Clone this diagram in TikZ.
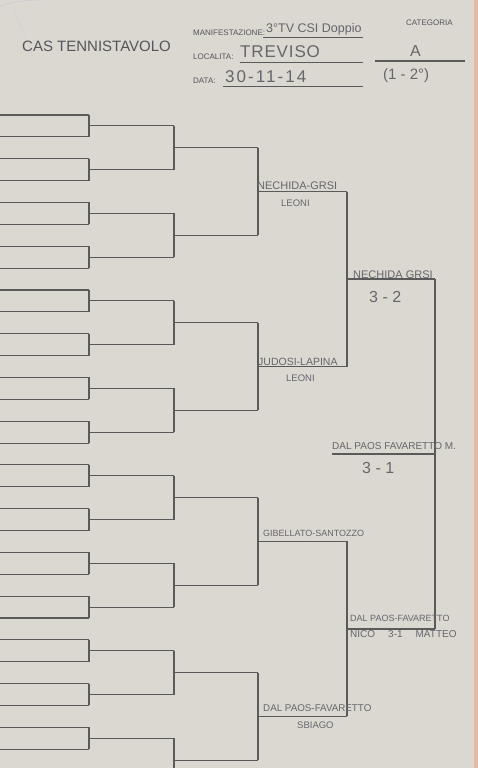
\documentclass[tikz,border=0pt]{standalone}
\usepackage{fontspec}
\setmainfont{Liberation Sans}
\usetikzlibrary{positioning, calc}
\usepackage{xcolor}
\definecolor{paper}{HTML}{DBD7D1}
\definecolor{edgepink}{HTML}{E6B9A6}
\definecolor{inkline}{HTML}{5A5A5A}
\definecolor{pencil}{HTML}{66666C}
\definecolor{printed}{HTML}{55555A}

\tikzset{
  bline/.style={inkline, line width=1.1pt},
  uline/.style={inkline, line width=0.9pt},
  hand/.style={pencil, inner sep=0pt, anchor=west, font=\fontsize{#1}{#1}\selectfont},
  hand/.default=10,
  form/.style={printed, inner sep=0pt, anchor=west, font=\fontsize{8}{8}\selectfont}
}

\begin{document}
\begin{tikzpicture}[x=1pt, y=-1pt]
  \useasboundingbox (0,0) rectangle (478,768);
  \fill[paper] (0,0) rectangle (478,768);
  \fill[edgepink] (474,0) rectangle (478,768);
  \clip (0,0) rectangle (478,768);
  % faint pencil marks top left
  \draw[pencil!35, line width=0.5pt] (0,6) .. controls (12,2) and (26,0) .. (38,0);
  \draw[pencil!30, line width=0.4pt] (13,7) -- (33,57);

  % header
  \node[hand=15, printed] (club) at (22,46) {CAS TENNISTAVOLO};
  \node[form] (manif) at (193,33) {MANIFESTAZIONE:};
  \node[form] (local) at (193,57) {LOCALITA:};
  \node[form] (data) at (193,81) {DATA:};
  \node[form] (categ) at (406,23) {CATEGORIA};
  \coordinate (m1) at (263,37); \coordinate (m2) at (363,37);
  \coordinate (l1) at (240,62); \coordinate (l2) at (363,62);
  \coordinate (d1) at (223,86); \coordinate (d2) at (363,86);
  \coordinate (c1) at (375,61); \coordinate (c2) at (465,61);
  \draw[uline] (m1) -- (m2);
  \draw[uline] (l1) -- (l2);
  \draw[uline] (d1) -- (d2);
  \draw[uline, line width=1.2pt] (c1) -- (c2);
  \node[hand=12.5] (event) at (266,29) {3°TV CSI Doppio};
  \node[hand=17, font=\fontsize{17}{17}\selectfont\addfontfeature{LetterSpace=5}] (town) at (240,52) {TREVISO};
  \node[hand=17, font=\fontsize{17}{17}\selectfont\addfontfeature{LetterSpace=12}] (day) at (225,77) {30-11-14};
  \node[hand=16] (cat) at (410,51) {A};
  \node[hand=15] (pos) at (383,76) {(1 - 2°)};

  % first round: 32 lines, only part fits on the sheet
  \foreach \i in {0,...,31} {
    \coordinate (a\i) at (89,{115+21.87*\i});
    \draw[bline] (0,{115+21.87*\i}) -- (a\i);
  }
  \foreach \j in {0,...,15} {
    \pgfmathtruncatemacro\p{2*\j}
    \pgfmathtruncatemacro\q{2*\j+1}
    \coordinate (b\j) at (174,{115+21.87*(2*\j+0.5)});
    \draw[bline] (a\p) -- (a\q);
    \draw[bline] (a\p|-b\j) -- (b\j);
  }
  \foreach \k in {0,...,7} {
    \pgfmathtruncatemacro\p{2*\k}
    \pgfmathtruncatemacro\q{2*\k+1}
    \coordinate (c\k) at (258,{115+21.87*(4*\k+1.5)});
    \draw[bline] (b\p) -- (b\q);
    \draw[bline] (b\p|-c\k) -- (c\k);
  }
  \foreach \m in {0,...,3} {
    \pgfmathtruncatemacro\p{2*\m}
    \pgfmathtruncatemacro\q{2*\m+1}
    \coordinate (e\m) at (347,{115+21.87*(8*\m+3.5)});
    \draw[bline] (c\p) -- (c\q);
    \draw[bline] (c\p|-e\m) -- (e\m);
  }
  \foreach \n in {0,1} {
    \pgfmathtruncatemacro\p{2*\n}
    \pgfmathtruncatemacro\q{2*\n+1}
    \coordinate (f\n) at (435,{115+21.87*(16*\n+7.5)});
    \draw[bline] (e\p) -- (e\q);
    \draw[bline] (e\p|-f\n) -- (f\n);
  }
  \coordinate (win) at (332,{115+21.87*15.5});
  \draw[bline] (f0) -- (f1);
  \draw[bline] (win) -- (f0|-win);

  % results
  \node[hand=11] (semi1) at (257,186) {NECHIDA-GRSI};
  \node[hand=9.5] (semi1b) at (281,203) {LEONI};
  \node[hand=10.5] (semi2) at (258,362) {JUDOSI-LAPINA};
  \node[hand=9.5] (semi2b) at (286,378) {LEONI};
  \node[hand=9] (semi3) at (263,533) {GIBELLATO-SANTOZZO};
  \node[hand=9.8] (semi4) at (263,708) {DAL PAOS-FAVARETTO};
  \node[hand=9.5] (semi4b) at (297,725) {SBIAGO};
  \node[hand=11] (fin1) at (353,275) {NECHIDA GRSI};
  \node[hand=16] (fin1s) at (369,297) {3 - 2};
  \node[hand=9] (fin2) at (350,618) {DAL PAOS-FAVARETTO};
  \node[hand=10] (fin2s) at (350,634) {NICO\hspace{13pt}3-1\hspace{13pt}MATTEO};
  \node[hand=10] (champ) at (332,446) {DAL PAOS FAVARETTO M.};
  \node[hand=16] (champs) at (362,468) {3 - 1};
\end{tikzpicture}
\end{document}
